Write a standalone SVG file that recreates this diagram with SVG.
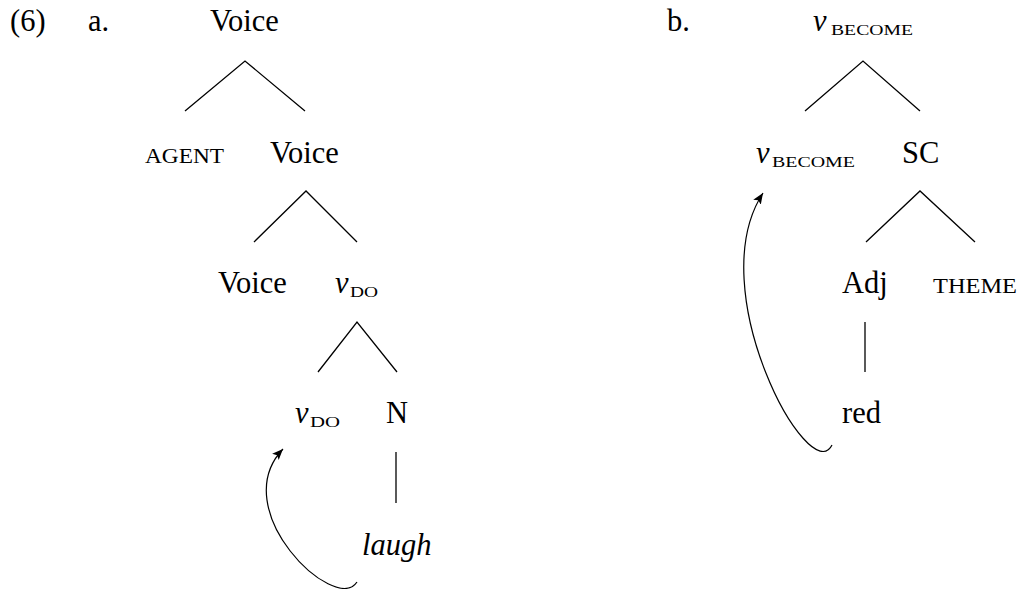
<svg xmlns="http://www.w3.org/2000/svg" width="1020" height="589" viewBox="0 0 1020 589">
<style>
.t{font-size:30.5px}
.sc{font-size:21px}
.sub{font-size:15px}
.it{font-style:italic}
.ln{stroke:#000;stroke-width:1.3;fill:none}
.arr{stroke:#000;stroke-width:1.2;fill:none;marker-end:url(#ah)}
</style>
<defs>
<marker id="ah" markerWidth="13" markerHeight="10" refX="11" refY="4.5" orient="auto" markerUnits="userSpaceOnUse">
<path d="M0,0 L11,4.5 L0,9 L2.5,4.5 Z" fill="#000"/>
</marker>
</defs>
<rect width="1020" height="589" fill="#fff"/>
<g font-family="'Liberation Serif', 'Times New Roman', 'DejaVu Serif', serif" fill="#000">
<g id="labels">
<text class="t" x="10" y="31">(6)</text>
<text class="t" x="88" y="31">a.</text>
<text class="t" x="667" y="31">b.</text>
</g>
<g id="a-voice-top"><text class="t" x="210" y="31">Voice</text></g>
<g id="a-agent"><text class="sc" x="145" y="163" textLength="79" lengthAdjust="spacingAndGlyphs">AGENT</text></g>
<g id="a-voice-mid"><text class="t" x="270" y="163">Voice</text></g>
<g id="a-voice-low"><text class="t" x="218" y="293">Voice</text></g>
<g id="a-vdo-1"><text class="t it" x="335" y="293">v</text><text class="sub" x="350" y="297" textLength="28" lengthAdjust="spacingAndGlyphs">DO</text></g>
<g id="a-vdo-2"><text class="t it" x="295" y="423">v</text><text class="sub" x="310" y="427" textLength="30" lengthAdjust="spacingAndGlyphs">DO</text></g>
<g id="a-n"><text class="t" x="386" y="423">N</text></g>
<g id="a-laugh"><text class="t it" x="362" y="555">laugh</text></g>
<g id="b-vbecome-top"><text class="t it" x="813" y="31">v</text><text class="sub" x="831" y="35" textLength="82" lengthAdjust="spacingAndGlyphs">BECOME</text></g>
<g id="b-vbecome-mid"><text class="t it" x="756" y="163">v</text><text class="sub" x="772" y="167" textLength="83" lengthAdjust="spacingAndGlyphs">BECOME</text></g>
<g id="b-sc"><text class="t" x="902" y="163">SC</text></g>
<g id="b-adj"><text class="t" x="842" y="293">Adj</text></g>
<g id="b-theme"><text class="sc" x="933" y="293" textLength="84" lengthAdjust="spacingAndGlyphs">THEME</text></g>
<g id="b-red"><text class="t" x="842" y="423">red</text></g>
</g>
<g id="connectors">
<path class="ln" d="M185,111 L245,61 L305,111"/>
<path class="ln" d="M254,242 L306,191 L357,242"/>
<path class="ln" d="M318,372 L357,322 L397,372"/>
<path class="ln" d="M396,452 L396,503"/>
<path class="ln" d="M805,111 L863,61 L920,111"/>
<path class="ln" d="M866,242 L920,191 L975,242"/>
<path class="ln" d="M865,322 L865,372"/>
<path class="arr" d="M357,582 C335,615 225,510 283,449"/>
<path class="arr" d="M832,445 C810,490 700,290 763,193"/>
</g>
</svg>
